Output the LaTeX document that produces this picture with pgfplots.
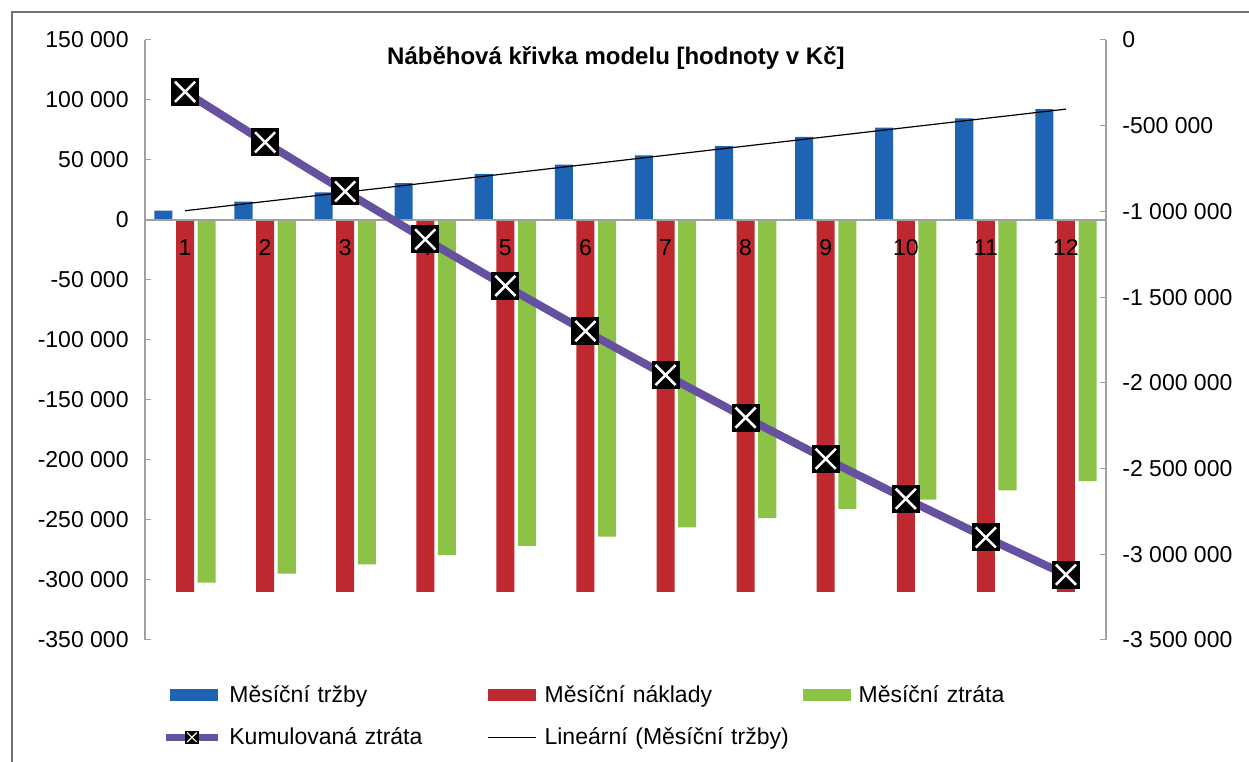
\documentclass[border=0pt]{standalone}
\usepackage{fontspec}
\setmainfont{Liberation Sans}
\usepackage{pgfplots}
\pgfplotsset{compat=1.18}
\usetikzlibrary{calc}

\definecolor{tblue}{HTML}{1F64B4}
\definecolor{tred}{HTML}{C0282F}
\definecolor{tgreen}{HTML}{8CC346}
\definecolor{tpurp}{HTML}{6650A0}
\definecolor{axgray}{HTML}{A0A0A0}

\pgfdeclareplotmark{sqx}{%
  \pgfpathrectangle{\pgfqpoint{-\pgfplotmarksize}{-\pgfplotmarksize}}{\pgfqpoint{2\pgfplotmarksize}{2\pgfplotmarksize}}%
  \pgfsetfillcolor{black}%
  \pgfusepathqfill
  \pgfsetstrokecolor{white}%
  \pgfsetlinewidth{0.18\pgfplotmarksize}%
  \pgfpathmoveto{\pgfqpoint{-0.72\pgfplotmarksize}{-0.72\pgfplotmarksize}}%
  \pgfpathlineto{\pgfqpoint{0.72\pgfplotmarksize}{0.72\pgfplotmarksize}}%
  \pgfpathmoveto{\pgfqpoint{-0.72\pgfplotmarksize}{0.72\pgfplotmarksize}}%
  \pgfpathlineto{\pgfqpoint{0.72\pgfplotmarksize}{-0.72\pgfplotmarksize}}%
  \pgfusepathqstroke
}

\newcommand{\lblfont}{\fontsize{11.5}{13}\selectfont}

\begin{document}
\begin{tikzpicture}
\begin{axis}[
  name=ax,
  scale only axis, width=480.5pt, height=300pt,
  xmin=0.5, xmax=12.5, ymin=-350000, ymax=150000,
  axis on top,
  scaled y ticks=false,
  axis x line*=middle, axis y line*=left,
  axis line style={axgray, line width=0.6pt},
  xtick={1,2,3,4,5,6,7,8,9,10,11,12},
  xticklabels={1,2,3,4,5,6,7,8,9,10,11,12},
  xtick style={draw=none},
  xticklabel style={font=\lblfont, inner ysep=0pt, yshift=-9.5pt},
  ytick={-350000,-300000,-250000,-200000,-150000,-100000,-50000,0,50000,100000,150000},
  yticklabels={-350 000,-300 000,-250 000,-200 000,-150 000,-100 000,-50 000,0,50 000,100 000,150 000},
  yticklabel style={font=\lblfont, inner xsep=0pt, xshift=-8pt},
  ytick style={axgray, line width=0.5pt},
  tick align=inside, major tick length=3pt,
  legend columns=3,
  legend cell align=left,
  legend style={at={(axis description cs:0.0177,-0.075)}, anchor=north west,
    draw=none, fill=none, inner sep=0pt, row sep=11pt, font=\lblfont,
    nodes={text width=125pt, align=left, inner xsep=4pt, inner ysep=0pt},
    /tikz/every even column/.append style={column sep=0pt}},
]
\addplot[ybar, bar width=0.225, bar shift=-0.27, fill=tblue, draw=none,
  legend image code/.code={\fill[tblue] (0pt,-3pt) rectangle (24pt,3pt);}]
  coordinates {(1,7700) (2,15400) (3,23100) (4,30800) (5,38500) (6,46200)
               (7,53900) (8,61600) (9,69300) (10,77000) (11,84700) (12,92400)};
\addlegendentry{Měsíční tržby}
\addplot[ybar, bar width=0.225, bar shift=0, fill=tred, draw=none,
  legend image code/.code={\fill[tred] (0pt,-3pt) rectangle (24pt,3pt);}]
  coordinates {(1,-310000) (2,-310000) (3,-310000) (4,-310000) (5,-310000) (6,-310000)
               (7,-310000) (8,-310000) (9,-310000) (10,-310000) (11,-310000) (12,-310000)};
\addlegendentry{Měsíční náklady}
\addplot[ybar, bar width=0.225, bar shift=0.27, fill=tgreen, draw=none,
  legend image code/.code={\fill[tgreen] (0pt,-3pt) rectangle (24pt,3pt);}]
  coordinates {(1,-302300) (2,-294600) (3,-286900) (4,-279200) (5,-271500) (6,-263800)
               (7,-256100) (8,-248400) (9,-240700) (10,-233000) (11,-225300) (12,-217600)};
\addlegendentry{Měsíční ztráta}
\addlegendimage{legend image code/.code={\draw[tpurp, line width=3.5pt] (-2pt,0pt) -- (24pt,0pt); \draw[mark size=3.3pt] plot[mark=sqx] coordinates {(11pt,0pt)};}}
\addlegendentry{Kumulovaná ztráta}
\addplot[black, line width=0.6pt, sharp plot,
  legend image code/.code={\draw[black, line width=0.6pt] (0pt,0pt) -- (24pt,0pt);}]
  coordinates {(1,7700) (12,92400)};
\addlegendentry{\mbox{Lineární (Měsíční tržby)}}
\node[font=\bfseries\fontsize{12}{14}\selectfont] at (rel axis cs:0.49,0.97) {Náběhová křivka modelu [hodnoty v Kč]};
\end{axis}

\begin{axis}[
  scale only axis, width=480.5pt, height=300pt,
  xmin=0.5, xmax=12.5, ymin=-3500000, ymax=0,
  scaled y ticks=false,
  axis x line=none, axis y line*=right,
  axis line style={axgray, line width=0.6pt},
  ytick={-3500000,-3000000,-2500000,-2000000,-1500000,-1000000,-500000,0},
  yticklabels={-3 500 000,-3 000 000,-2 500 000,-2 000 000,-1 500 000,-1 000 000,-500 000,0},
  yticklabel style={font=\lblfont, inner xsep=0pt, xshift=8pt},
  ytick style={axgray, line width=0.5pt},
  tick align=inside, major tick length=3pt,
  clip=false,
]
\addplot[tpurp, line width=4pt, mark=sqx, mark size=7pt]
  coordinates {(1,-302300) (2,-596900) (3,-883800) (4,-1163000) (5,-1434500) (6,-1698300)
               (7,-1954400) (8,-2202800) (9,-2443500) (10,-2676500) (11,-2901800) (12,-3119400)};
\end{axis}

\draw[black!55, line width=0.6pt] ($(ax.south west)+(-66.5pt,-61pt)$) -- ($(ax.north west)+(-66.5pt,14pt)$) -- ($(ax.north east)+(71.5pt,14pt)$);
\pgfresetboundingbox
\path[use as bounding box] ($(ax.south west)+(-72.5pt,-61pt)$) rectangle ($(ax.north east)+(71.5pt,20pt)$);
\end{tikzpicture}
\end{document}
